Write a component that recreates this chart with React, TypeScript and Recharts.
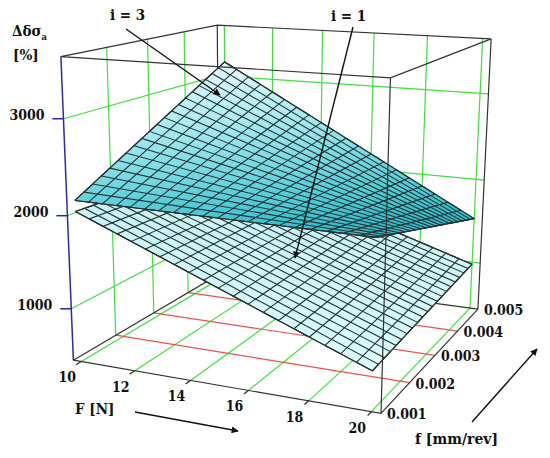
import React from 'react';
import { ScatterChart, Scatter, XAxis, YAxis } from 'recharts';

// axis ticks
const F_TICKS = [10, 12, 14, 16, 18, 20];
const FEED_TICKS = [0.001, 0.002, 0.003, 0.004, 0.005];
const FEED_LABELS = ['0.001', '0.002', '0.003', '0.004', '0.005'];
const Z_TICKS = [1000, 2000, 3000];

// surface range and corner values, [f = 0.001, f = 0.005]
const SURF_F = [10, 20];
const SURF_FEED = [0.001, 0.005];
const I3_AT_F10 = [2170, 3175];
const I3_AT_F20 = [2150, 1530];
const I1_AT_F10 = [2055, 1950];
const I1_AT_F20 = [845, 975];

// box extents (F is padded a bit, like the original)
const BOX_F = [9.7, 20.3];
const BOX_FEED = [0.001, 0.005];
const BOX_Z = [430, 3620];

// camera calibration: unit box point -> screen point
const CAMERA_ANCHORS = [
  [0, 0, 0, 73, 360], [1, 0, 0, 382, 412], [0, 1, 0, 216, 275], [1, 1, 0, 478, 308],
  [0, 0, 1, 61, 58], [1, 0, 1, 390, 79], [0, 1, 1, 217, 25], [1, 1, 1, 492, 39],
  [0, 0.25, 0, 122, 335], [0, 0.5, 0, 157, 313], [0, 0.75, 0, 188, 293],
  [0.028, 0, 0, 78, 362], [0.406, 0, 0, 188, 382], [0.783, 0, 0, 308, 402],
  [0, 0, 0.179, 71, 307], [0, 0, 0.806, 63, 116],
];

const MESH = 20;
const W = 550;
const H = 458;
const CX = 275, CY = 230, SX = 275, SY = 230;
const FONT = 'DejaVu Serif Condensed, DejaVu Serif, serif';

type Pt = { x: number; y: number; label?: string; sub?: string };

function fitCamera(anchors: number[][]): number[] {
  const n = 11;
  const M: number[][] = Array.from({ length: n }, () => new Array(n + 1).fill(0));
  const addRow = (row: number[], rhs: number) => {
    for (let i = 0; i < n; i++) {
      for (let j = 0; j < n; j++) M[i][j] += row[i] * row[j];
      M[i][n] += row[i] * rhs;
    }
  };
  for (const [X, Y, Z, px, py] of anchors) {
    const x = (px - CX) / SX;
    const y = (py - CY) / SY;
    addRow([X, Y, Z, 1, 0, 0, 0, 0, -x * X, -x * Y, -x * Z], x);
    addRow([0, 0, 0, 0, X, Y, Z, 1, -y * X, -y * Y, -y * Z], y);
  }
  for (let c = 0; c < n; c++) {
    let piv = c;
    for (let r = c + 1; r < n; r++) if (Math.abs(M[r][c]) > Math.abs(M[piv][c])) piv = r;
    [M[c], M[piv]] = [M[piv], M[c]];
    for (let r = 0; r < n; r++) {
      if (r === c) continue;
      const k = M[r][c] / M[c][c];
      for (let j = c; j <= n; j++) M[r][j] -= k * M[c][j];
    }
  }
  return M.map((row, i) => row[n] / row[i]);
}

const CAM = fitCamera(CAMERA_ANCHORS);

function project(F: number, feed: number, z: number): Pt {
  const X = (F - BOX_F[0]) / (BOX_F[1] - BOX_F[0]);
  const Y = (feed - BOX_FEED[0]) / (BOX_FEED[1] - BOX_FEED[0]);
  const Z = (z - BOX_Z[0]) / (BOX_Z[1] - BOX_Z[0]);
  const c = CAM;
  const d = c[8] * X + c[9] * Y + c[10] * Z + 1;
  return {
    x: ((c[0] * X + c[1] * Y + c[2] * Z + c[3]) / d) * SX + CX,
    y: ((c[4] * X + c[5] * Y + c[6] * Z + c[7]) / d) * SY + CY,
  };
}

const NoDot = () => <g />;

function path(key: string, pts: Pt[], stroke: string, width = 1.2, extra: any = {}) {
  return (
    <Scatter
      key={key}
      data={pts}
      isAnimationActive={false}
      shape={NoDot}
      legendType="none"
      line={{ stroke, strokeWidth: width, fill: 'none', ...extra }}
    />
  );
}

function texts(key: string, pts: Pt[], size: number, anchor: string) {
  return (
    <Scatter
      key={key}
      data={pts}
      isAnimationActive={false}
      legendType="none"
      shape={(p: any) => (
        <text
          x={p.cx}
          y={p.cy}
          dy="0.35em"
          textAnchor={anchor}
          fontFamily={FONT}
          fontStretch="condensed"
          fontWeight="bold"
          fontSize={size}
          fill="#111"
        >
          {p.payload.label}
          {p.payload.sub ? (
            <tspan fontSize={size * 0.62} dy="0.35em">{p.payload.sub}</tspan>
          ) : null}
        </text>
      )}
    />
  );
}

function surface(key: string, atF10: number[], atF20: number[], fillId: string) {
  const zAt = (t: number, s: number) =>
    (1 - t) * (1 - s) * atF10[0] + (1 - t) * s * atF10[1] + t * (1 - s) * atF20[0] + t * s * atF20[1];
  const P = (t: number, s: number) =>
    project(SURF_F[0] + t * (SURF_F[1] - SURF_F[0]), SURF_FEED[0] + s * (SURF_FEED[1] - SURF_FEED[0]), zAt(t, s));
  const outline = [P(0, 0), P(1, 0), P(1, 1), P(0, 1), P(0, 0)];
  const linesF: Pt[] = [];
  const linesFeed: Pt[] = [];
  for (let i = 0; i <= MESH; i++) {
    const t = i / MESH;
    if (i % 2 === 0) linesF.push(P(t, 0), P(t, 1));
    else linesF.push(P(t, 1), P(t, 0));
    if (i % 2 === 0) linesFeed.push(P(0, t), P(1, t));
    else linesFeed.push(P(1, t), P(0, t));
  }
  return [
    path(key + '-fill', outline, 'none', 0, { fill: `url(#${fillId})` }),
    path(key + '-mf', linesF, '#273232', 1.1),
    path(key + '-md', linesFeed, '#273232', 1.1),
    path(key + '-edge', outline, '#273232', 1.1),
  ];
}

export default function App() {
  const [F0, F1] = BOX_F;
  const [d0, d1] = BOX_FEED;
  const [z0, z1] = BOX_Z;
  const GREEN = '#3ee03e';
  const RED = '#e65252';
  const EDGE = '#333';
  const layers: React.ReactNode[] = [];

  // floor grid
  F_TICKS.forEach((F) => layers.push(path('fl-' + F, [project(F, d0, z0), project(F, d1, z0)], GREEN)));
  FEED_TICKS.slice(1, -1).forEach((d) =>
    layers.push(path('fr-' + d, [project(F0, d, z0), project(F1, d, z0)], RED)),
  );
  // left wall
  Z_TICKS.forEach((z) => layers.push(path('lw-' + z, [project(F0, d0, z), project(F0, d1, z)], GREEN)));
  FEED_TICKS.slice(1, -1).forEach((d) =>
    layers.push(path('lv-' + d, [project(F0, d, z0), project(F0, d, z1)], GREEN)),
  );
  // back wall
  Z_TICKS.forEach((z) => layers.push(path('bw-' + z, [project(F0, d1, z), project(F1, d1, z)], GREEN)));
  F_TICKS.forEach((F) => layers.push(path('bv-' + F, [project(F, d1, z0), project(F, d1, z1)], GREEN)));

  // back edges of the box
  layers.push(path('e1', [project(F0, d1, z0), project(F0, d1, z1)], EDGE));
  layers.push(path('e2', [project(F0, d0, z0), project(F0, d1, z0), project(F1, d1, z0)], EDGE));
  layers.push(path('e3', [project(F1, d1, z0), project(F1, d1, z1)], EDGE));

  // surfaces
  layers.push(...surface('i1', I1_AT_F10, I1_AT_F20, 'g1'));
  layers.push(...surface('i3', I3_AT_F10, I3_AT_F20, 'g3'));

  // front and top edges
  layers.push(
    path('e4', [project(F0, d0, z1), project(F0, d1, z1), project(F1, d1, z1), project(F1, d0, z1), project(F0, d0, z1)], EDGE),
  );
  layers.push(path('e5', [project(F0, d0, z0), project(F1, d0, z0), project(F1, d1, z0)], EDGE));
  layers.push(path('e6', [project(F1, d0, z0), project(F1, d0, z1)], EDGE));
  layers.push(path('zaxis', [project(F0, d0, z0), project(F0, d0, z1)], '#2a2aa8', 1.5));

  // ticks
  Z_TICKS.forEach((z) => {
    const p = project(F0, d0, z);
    layers.push(path('zt-' + z, [p, { x: p.x - 11, y: p.y }], '#2a2aa8', 1.5));
  });
  F_TICKS.forEach((F) =>
    layers.push(path('ft-' + F, [project(F, d0, z0), project(F, d0 - 0.00012, z0)], EDGE, 1.3)),
  );

  // tick labels
  layers.push(
    texts('zl', Z_TICKS.map((z) => {
      const p = project(F0, d0, z);
      return { x: p.x - 19, y: p.y - 4, label: String(z) };
    }), 14, 'end'),
  );
  layers.push(
    texts('fl', F_TICKS.map((F) => {
      const p = project(F, d0, z0);
      return { x: p.x - 14, y: p.y + 16, label: String(F) };
    }), 14, 'middle'),
  );
  layers.push(
    texts('dl', FEED_TICKS.map((d, i) => {
      const p = project(F1, d, z0);
      return { x: p.x + 6, y: p.y + 1, label: FEED_LABELS[i] };
    }), 14, 'start'),
  );

  // titles and annotations
  layers.push(texts('tz', [{ x: 12, y: 31, label: 'Δδσ', sub: 'a' }, { x: 13, y: 55, label: '[%]' }], 15, 'start'));
  layers.push(texts('tF', [{ x: 75, y: 409, label: 'F [N]' }], 15, 'start'));
  layers.push(texts('tf', [{ x: 415, y: 439, label: 'f [mm/rev]' }], 15.5, 'start'));
  layers.push(texts('ti', [{ x: 110, y: 15, label: 'i = 3' }, { x: 331, y: 16, label: 'i = 1' }], 15, 'start'));
  layers.push(path('a3', [{ x: 126, y: 29 }, { x: 220, y: 95 }], '#111', 1.4, { markerEnd: 'url(#ah)' }));
  layers.push(path('a1', [{ x: 353, y: 27 }, { x: 295, y: 258 }], '#111', 1.4, { markerEnd: 'url(#ah)' }));
  layers.push(path('aF', [{ x: 135, y: 412 }, { x: 238, y: 431 }], '#111', 1.4, { markerEnd: 'url(#ah)' }));
  layers.push(path('af', [{ x: 472, y: 422 }, { x: 537, y: 349 }], '#111', 1.4, { markerEnd: 'url(#ah)' }));

  return (
    <div style={{ position: 'absolute', left: 0, top: 0, width: W, height: H, background: '#fff' }}>
      <ScatterChart width={W} height={H} margin={{ top: 0, right: 0, bottom: 0, left: 0 }}>
        <defs>
          <linearGradient id="g3" x1="0" y1="0" x2="0.2" y2="1">
            <stop offset="0" stopColor="#f4fefe" />
            <stop offset="0.4" stopColor="#aaebf1" />
            <stop offset="1" stopColor="#34c2d0" />
          </linearGradient>
          <linearGradient id="g1" x1="0" y1="0" x2="0" y2="1">
            <stop offset="0" stopColor="#c2f0f3" />
            <stop offset="1" stopColor="#dcfafb" />
          </linearGradient>
          <marker id="ah" viewBox="0 0 10 10" refX="9" refY="5" markerWidth="12" markerHeight="7"
            markerUnits="userSpaceOnUse" orient="auto">
            <path d="M0,0 L10,5 L0,10 z" fill="#111" />
          </marker>
        </defs>
        <XAxis type="number" dataKey="x" domain={[0, W]} hide allowDataOverflow />
        <YAxis type="number" dataKey="y" domain={[0, H]} reversed hide allowDataOverflow />
        {layers}
      </ScatterChart>
    </div>
  );
}
